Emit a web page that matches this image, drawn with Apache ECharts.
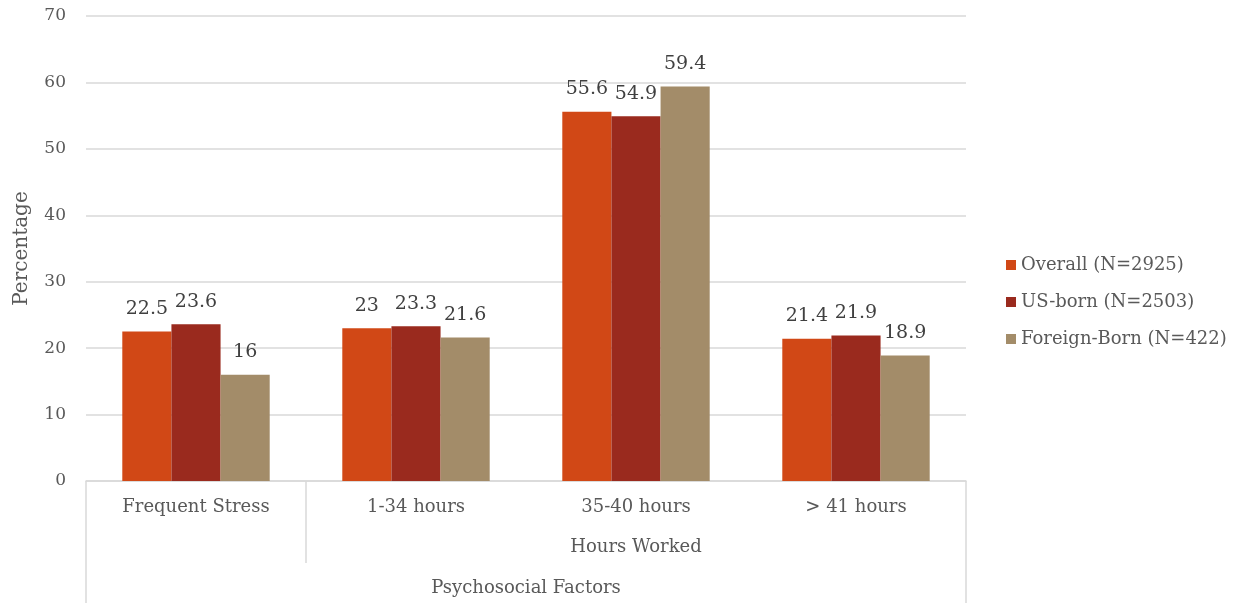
<!DOCTYPE html>
<html>
<head>
<meta charset="utf-8">
<script src="https://cdn.jsdelivr.net/npm/echarts@6/dist/echarts.min.js"></script>
<style>
html,body{margin:0;padding:0;background:#fff;}
#c{width:1238px;height:603px;}
</style>
</head>
<body>
<div id="c"></div>
<script>
var categories = ['Frequent Stress', '1-34 hours', '35-40 hours', '> 41 hours'];
var groupLabels = ['', '', 'Hours Worked', ''];
var outerLabel = 'Psychosocial Factors';
var seriesNames = ['Overall (N=2925)', 'US-born (N=2503)', 'Foreign-Born (N=422)'];
var overall = [22.5, 23, 55.6, 21.4];
var usBorn = [23.6, 23.3, 54.9, 21.9];
var foreignBorn = [16, 21.6, 59.4, 18.9];
var colors = ['#D14816', '#9A2A1E', '#A38C69'];

var FONT = 'DejaVu Serif';
var TXT = '#595959';
var LINE = '#D9D9D9';

function bar(name, data, color) {
  return {
    name: name, type: 'bar', data: data, barGap: '0%', barCategoryGap: '33%',
    itemStyle: {color: color},
    label: {show: true, position: 'top', distance: 13, color: '#404040', fontFamily: FONT, fontSize: 19}
  };
}

var chart = echarts.init(document.getElementById('c'));
chart.setOption({
  animation: false,
  textStyle: {fontFamily: FONT},
  grid: {left: 86, right: 272, top: 16, bottom: 122, outerBoundsMode: 'none', containLabel: false},
  legend: {
    orient: 'vertical', left: 1001, top: 251, itemWidth: 10, itemHeight: 10, itemGap: 19,
    icon: 'rect', textStyle: {color: TXT, fontFamily: FONT, fontSize: 18},
    data: seriesNames
  },
  xAxis: [{
    type: 'category', data: categories, position: 'bottom',
    axisLine: {lineStyle: {color: LINE, width: 1.5}},
    axisTick: {show: true, length: 122, interval: function (i) { return i === 0; }, lineStyle: {color: LINE, width: 1.5}},
    axisLabel: {color: TXT, fontFamily: FONT, fontSize: 18, interval: 0, margin: 17},
    name: outerLabel, nameLocation: 'middle', nameGap: 98,
    nameTextStyle: {color: TXT, fontFamily: FONT, fontSize: 18}
  }, {
    type: 'category', data: categories, position: 'bottom',
    axisLine: {show: false},
    axisTick: {show: true, length: 82, interval: function (i) { return i === 0 || i === 1; }, lineStyle: {color: LINE, width: 1.5}},
    axisLabel: {color: TXT, fontFamily: FONT, fontSize: 18, interval: 0, margin: 57,
      formatter: function (v, i) { return groupLabels[i]; }}
  }],
  yAxis: {
    type: 'value', min: 0, max: 70, interval: 10,
    axisLine: {show: false}, axisTick: {show: false},
    splitLine: {lineStyle: {color: LINE, width: 1.5}},
    axisLabel: {color: TXT, fontFamily: FONT, fontSize: 17, margin: 20},
    name: 'Percentage', nameLocation: 'middle', nameGap: 54, nameRotate: 90,
    nameTextStyle: {color: TXT, fontFamily: FONT, fontSize: 20}
  },
  series: [bar(seriesNames[0], overall, colors[0]), bar(seriesNames[1], usBorn, colors[1]), bar(seriesNames[2], foreignBorn, colors[2])]
});
</script>
</body>
</html>
